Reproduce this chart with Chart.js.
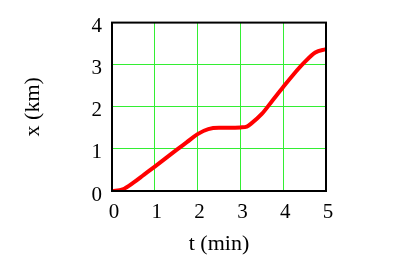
<!DOCTYPE html>
<html>
<head>
<meta charset="utf-8">
<script src="https://cdn.jsdelivr.net/npm/chart.js@4"></script>
<style>
  html, body { margin: 0; padding: 0; background: #fff; }
  #wrap { width: 397px; height: 266px; }
</style>
</head>
<body>
<div id="wrap"><canvas id="c"></canvas></div>
<script>
// t in minutes, x in km
const tValues = [0, 0.25, 0.5, 0.75, 1, 1.25, 1.5, 1.75, 2, 2.25, 2.5, 2.75, 3, 3.15, 3.25, 3.5, 3.75, 4, 4.25, 4.5, 4.75, 5];
const xValues = [0, 0.04, 0.2, 0.39, 0.58, 0.775, 0.97, 1.16, 1.35, 1.47, 1.5, 1.5, 1.51, 1.53, 1.6, 1.83, 2.15, 2.47, 2.78, 3.06, 3.29, 3.37];
const tTicks = [0, 1, 2, 3, 4, 5];
const xTicks = [0, 1, 2, 3, 4];

const serif = "'Liberation Serif', 'Times New Roman', serif";

// black frame round the plot area
const frame = {
    id: "frame",
    afterDatasetsDraw(chart) {
        const { ctx, chartArea: a } = chart;
        ctx.save();
        ctx.strokeStyle = "#000";
        ctx.lineWidth = 2;
        ctx.strokeRect(a.left, a.top, a.right - a.left, a.bottom - a.top);
        ctx.restore();
    },
};

new Chart(document.getElementById("c"), {
    type: "line",
    data: {
        datasets: [
            {
                data: tValues.map((t, i) => ({ x: t, y: xValues[i] })),
                borderColor: "#ff0000",
                borderWidth: 4,
                pointRadius: 0,
                cubicInterpolationMode: "monotone",
                fill: false,
            },
        ],
    },
    options: {
        responsive: true,
        maintainAspectRatio: false,
        animation: false,
        layout: { padding: { top: 22, right: 71, left: 0, bottom: 0 } },
        plugins: { legend: { display: false }, tooltip: { enabled: false } },
        scales: {
            x: {
                type: "linear",
                min: 0,
                max: 5,
                afterBuildTicks: (s) => { s.ticks = tTicks.map((v) => ({ value: v })); },
                afterFit: (s) => { s.height = 75; },
                grid: { color: "#33ee33", lineWidth: 1, drawTicks: false },
                border: { display: false },
                ticks: {
                    color: "#000",
                    font: { family: serif, size: 21 },
                    padding: 9,
                    labelOffset: 2,
                    maxRotation: 0,
                },
                title: {
                    display: true,
                    text: "t (min)",
                    color: "#000",
                    font: { family: serif, size: 22 },
                    padding: { top: 0, bottom: 9 },
                },
            },
            y: {
                type: "linear",
                min: 0,
                max: 4,
                afterBuildTicks: (s) => { s.ticks = xTicks.map((v) => ({ value: v })); },
                afterFit: (s) => { s.width = 112; },
                grid: { color: "#33ee33", lineWidth: 1, drawTicks: false },
                border: { display: false },
                ticks: {
                    color: "#000",
                    font: { family: serif, size: 21 },
                    padding: 10,
                    labelOffset: 4,
                },
                title: {
                    display: true,
                    text: "x (km)",
                    color: "#000",
                    font: { family: serif, size: 22 },
                    padding: { top: 20, bottom: 0 },
                },
            },
        },
    },
    plugins: [frame],
});
</script>
</body>
</html>
